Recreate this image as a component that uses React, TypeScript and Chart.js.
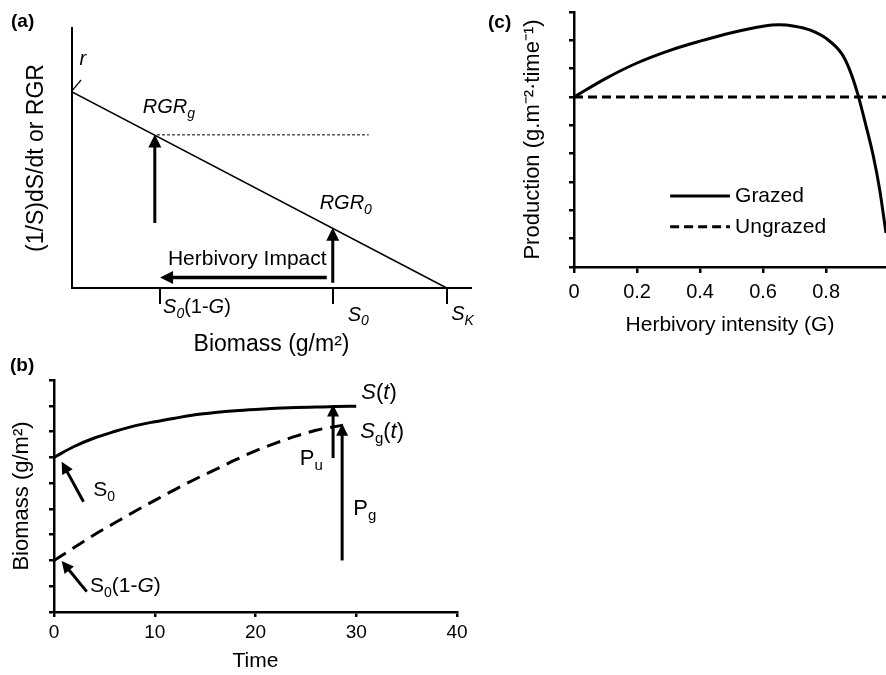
import React, { useEffect, useRef } from 'react';
import { Chart, registerables } from 'chart.js';

Chart.register(...registerables);

const FONT = '"Liberation Sans", Arial, Helvetica, sans-serif';
Chart.defaults.font.family = FONT;
Chart.defaults.color = '#000';

// ---------- Panel (a): relative growth rate vs biomass ----------
const aBiomass = [0, 100];
const aRGR = [0.754, 0];
const aRefBiomass = [22.7, 79.2];
const aRefRGR = [0.589, 0.589];
const aTickValues = [23.5, 69.6, 100];
const aTickLabels = ['*S*_{*0*}(1-*G*)', '*S*_{*0*}', '*S*_{*K*}'];
const aTickLabelX = [24.3, 73.6, 101.2];
const aTickLabelY = [-0.075, -0.104, -0.102];

// ---------- Panel (b): biomass vs time ----------
const bTime = [0, 2, 4, 6, 8, 10, 12, 14, 16, 18, 20, 22, 24, 26, 28, 30];
const bUngrazed = [6.0, 6.42, 6.75, 7.0, 7.22, 7.38, 7.52, 7.65, 7.74, 7.81, 7.86, 7.9, 7.93, 7.95, 7.97, 7.98];
const bTimeGrazed = [0, 2, 4, 6, 8, 10, 12, 14, 16, 18, 20, 22, 24, 26, 28.7];
const bGrazed = [2.0, 2.5, 3.0, 3.45, 3.9, 4.33, 4.75, 5.15, 5.52, 5.9, 6.25, 6.55, 6.82, 7.05, 7.25];
const bXTicks = [0, 10, 20, 30, 40];
const bYTicks = [0, 1, 2, 3, 4, 5, 6, 7, 8, 9];

// ---------- Panel (c): production vs herbivory intensity ----------
const cIntensity = [0, 0.1, 0.2, 0.3, 0.4, 0.5, 0.6, 0.65, 0.7, 0.75, 0.8, 0.85, 0.875, 0.9, 0.925, 0.95, 0.97, 0.99];
const cGrazed = [6.0, 6.65, 7.2, 7.63, 7.97, 8.27, 8.5, 8.55, 8.5, 8.36, 8.07, 7.52, 6.95, 6.12, 5.05, 3.9, 2.73, 1.2];
const cUngrazedX = [0, 0.99];
const cUngrazed = [6, 6];
const cXTicks = [0, 0.2, 0.4, 0.6, 0.8];
const cXTickLabels = ['0', '0.2', '0.4', '0.6', '0.8'];
const cYTicks = [0, 1, 2, 3, 4, 5, 6, 7, 8, 9];
const cSeriesNames = ['Grazed', 'Ungrazed'];

// ---------- rich text helper ----------
type Seg = { t: string; it: boolean; mode: 'n' | 'sub' | 'sup' };
function parseRich(s: string): Seg[] {
  const segs: Seg[] = [];
  let it = false;
  let mode: 'n' | 'sub' | 'sup' = 'n';
  let buf = '';
  const flush = () => {
    if (buf) { segs.push({ t: buf, it, mode }); buf = ''; }
  };
  for (let i = 0; i < s.length; i++) {
    const c = s[i];
    if (c === '*') { flush(); it = !it; }
    else if ((c === '_' || c === '^') && s[i + 1] === '{') { flush(); mode = c === '_' ? 'sub' : 'sup'; i++; }
    else if (c === '}' && mode !== 'n') { flush(); mode = 'n'; }
    else buf += c;
  }
  flush();
  return segs;
}
function drawRich(ctx: CanvasRenderingContext2D, s: string, x: number, y: number, size: number, align: 'left' | 'center') {
  const segs = parseRich(s);
  const fontOf = (g: Seg) => `${g.it ? 'italic ' : ''}${g.mode === 'n' ? size : Math.round(size * 0.68)}px ${FONT}`;
  let total = 0;
  const widths = segs.map((g) => { ctx.font = fontOf(g); const w = ctx.measureText(g.t).width; total += w; return w; });
  let cx = align === 'center' ? x - total / 2 : x;
  ctx.textBaseline = 'middle';
  ctx.textAlign = 'left';
  ctx.fillStyle = '#000';
  segs.forEach((g, i) => {
    ctx.font = fontOf(g);
    const dy = g.mode === 'sub' ? size * 0.32 : g.mode === 'sup' ? -size * 0.35 : 0;
    ctx.fillText(g.t, cx, y + dy);
    cx += widths[i];
  });
}
function drawArrow(ctx: CanvasRenderingContext2D, x1: number, y1: number, x2: number, y2: number, w: number, head: number) {
  const ang = Math.atan2(y2 - y1, x2 - x1);
  const bx = x2 - Math.cos(ang) * head;
  const by = y2 - Math.sin(ang) * head;
  ctx.strokeStyle = '#000';
  ctx.fillStyle = '#000';
  ctx.lineWidth = w;
  ctx.lineCap = 'butt';
  ctx.setLineDash([]);
  ctx.beginPath();
  ctx.moveTo(x1, y1);
  ctx.lineTo(bx + Math.cos(ang) * 1, by + Math.sin(ang) * 1);
  ctx.stroke();
  const hw = head * 0.5;
  ctx.beginPath();
  ctx.moveTo(x2, y2);
  ctx.lineTo(bx + Math.sin(ang) * hw, by - Math.cos(ang) * hw);
  ctx.lineTo(bx - Math.sin(ang) * hw, by + Math.cos(ang) * hw);
  ctx.closePath();
  ctx.fill();
}

type Arrow = { from: [number, number]; to: [number, number]; w: number; head: number };
type Label = { at: [number, number]; s: string; size: number; align?: 'left' | 'center' };
type Seg2 = { from: [number, number]; to: [number, number]; w: number };
type Overlay = { arrows?: Arrow[]; labels?: Label[]; segments?: Seg2[]; legend?: { x1: number; x2: number; tx: number; ys: number[]; size: number } };

function makeOverlay(spec: Overlay) {
  return {
    id: 'overlay',
    afterDraw(chart: any) {
      const ctx: CanvasRenderingContext2D = chart.ctx;
      const xs = chart.scales.x;
      const ys = chart.scales.y;
      const px = (v: number) => xs.getPixelForValue(v);
      const py = (v: number) => ys.getPixelForValue(v);
      ctx.save();
      (spec.segments || []).forEach((s) => {
        ctx.strokeStyle = '#000';
        ctx.lineWidth = s.w;
        ctx.setLineDash([]);
        ctx.beginPath();
        ctx.moveTo(px(s.from[0]), py(s.from[1]));
        ctx.lineTo(px(s.to[0]), py(s.to[1]));
        ctx.stroke();
      });
      (spec.arrows || []).forEach((a) => {
        drawArrow(ctx, px(a.from[0]), py(a.from[1]), px(a.to[0]), py(a.to[1]), a.w, a.head);
      });
      (spec.labels || []).forEach((l) => {
        drawRich(ctx, l.s, px(l.at[0]), py(l.at[1]), l.size, l.align || 'left');
      });
      if (spec.legend) {
        const lg = spec.legend;
        chart.data.datasets.forEach((ds: any, i: number) => {
          const y = py(lg.ys[i]);
          ctx.strokeStyle = ds.borderColor;
          ctx.lineWidth = ds.borderWidth;
          ctx.setLineDash(ds.borderDash || []);
          ctx.beginPath();
          ctx.moveTo(px(lg.x1), y);
          ctx.lineTo(px(lg.x2), y);
          ctx.stroke();
          ctx.setLineDash([]);
          drawRich(ctx, ds.label, px(lg.tx), y, lg.size, 'left');
        });
      }
      ctx.restore();
    },
  };
}

const pts = (xs: number[], ys: number[]) => xs.map((x, i) => ({ x, y: ys[i] }));
const setTicks = (vals: number[]) => (scale: any) => { scale.ticks = vals.map((v) => ({ value: v })); };

function buildA(): any {
  return {
    type: 'line',
    data: {
      datasets: [
        { label: 'RGR', data: pts(aBiomass, aRGR), borderColor: '#000', borderWidth: 1.6, pointRadius: 0, tension: 0 },
        { label: 'reference', data: pts(aRefBiomass, aRefRGR), borderColor: '#000', borderWidth: 1, borderDash: [3, 2], pointRadius: 0 },
      ],
    },
    options: {
      responsive: false, animation: false, events: [],
      layout: { padding: { top: 28, right: 9, left: 0, bottom: 0 } },
      plugins: { legend: { display: false }, tooltip: { enabled: false } },
      scales: {
        x: {
          type: 'linear', min: 0, max: 106.5,
          afterBuildTicks: setTicks(aTickValues),
          afterFit: (s: any) => { s.height = 72; },
          ticks: { display: false },
          grid: { display: true, drawOnChartArea: false, drawTicks: true, tickLength: 16, color: '#000', lineWidth: 2 },
          border: { display: true, color: '#000', width: 2 },
          title: { display: true, text: 'Biomass (g/m²)', font: { size: 23 }, color: '#000', padding: { top: 0, bottom: 2 } },
        },
        y: {
          type: 'linear', min: 0, max: 1,
          afterBuildTicks: setTicks([]),
          afterFit: (s: any) => { s.width = 72; },
          ticks: { display: false },
          grid: { display: false },
          border: { display: true, color: '#000', width: 2 },
          title: { display: true, text: '(1/S)dS/dt or RGR', font: { size: 23 }, color: '#000', padding: { top: 23, bottom: 0 } },
        },
      },
    },
    plugins: [makeOverlay({
      segments: [{ from: [0, 0.758], to: [2.4, 0.8], w: 1.2 }],
      arrows: [
        { from: [22.1, 0.25], to: [22.1, 0.59], w: 3, head: 13 },
        { from: [69.6, 0.02], to: [69.6, 0.232], w: 3, head: 13 },
        { from: [68, 0.04], to: [23.5, 0.04], w: 3.5, head: 13 },
      ],
      labels: [
        { at: [2.9, 0.881], s: '*r*', size: 20, align: 'center' },
        { at: [18.9, 0.694], s: '*RGR*_{*g*}', size: 20 },
        { at: [66.1, 0.325], s: '*RGR*_{*0*}', size: 20 },
        { at: [25.6, 0.11], s: 'Herbivory Impact', size: 21 },
        ...aTickLabels.map((s, i) => ({ at: [aTickLabelX[i], aTickLabelY[i]] as [number, number], s, size: 20 })),
      ],
    })],
  };
}

function buildB(): any {
  return {
    type: 'line',
    data: {
      datasets: [
        { label: 'S(t)', data: pts(bTime, bUngrazed), borderColor: '#000', borderWidth: 3, pointRadius: 0, cubicInterpolationMode: 'monotone' },
        { label: 'Sg(t)', data: pts(bTimeGrazed, bGrazed), borderColor: '#000', borderWidth: 3, borderDash: [14, 8], pointRadius: 0, cubicInterpolationMode: 'monotone' },
      ],
    },
    options: {
      responsive: false, animation: false, events: [],
      layout: { padding: { top: 20, right: 23, left: 0, bottom: 0 } },
      plugins: { legend: { display: false }, tooltip: { enabled: false } },
      scales: {
        x: {
          type: 'linear', min: 0, max: 40,
          afterBuildTicks: setTicks(bXTicks),
          afterFit: (s: any) => { s.height = 63; },
          ticks: { display: true, font: { size: 19 }, color: '#000', padding: 4, maxRotation: 0 },
          grid: { display: true, drawOnChartArea: false, drawTicks: true, tickLength: 5, color: '#000', lineWidth: 2.5 },
          border: { display: true, color: '#000', width: 2.5 },
          title: { display: true, text: 'Time', font: { size: 21 }, color: '#000', padding: { top: 0, bottom: 1 } },
        },
        y: {
          type: 'linear', min: 0, max: 9,
          afterBuildTicks: setTicks(bYTicks),
          afterFit: (s: any) => { s.width = 54; },
          ticks: { display: false },
          grid: { display: true, drawOnChartArea: false, drawTicks: true, tickLength: 5, color: '#000', lineWidth: 2.5 },
          border: { display: true, color: '#000', width: 2.5 },
          title: { display: true, text: 'Biomass (g/m²)', font: { size: 22 }, color: '#000', padding: { top: 9, bottom: 0 } },
        },
      },
    },
    plugins: [makeOverlay({
      arrows: [
        { from: [27.7, 5.97], to: [27.7, 8.05], w: 3, head: 12 },
        { from: [28.6, 2.0], to: [28.6, 7.3], w: 3, head: 12 },
        { from: [2.93, 4.28], to: [0.76, 5.83], w: 3, head: 12 },
        { from: [3.25, 0.79], to: [0.76, 1.98], w: 3, head: 12 },
      ],
      labels: [
        { at: [30.5, 8.51], s: '*S*(*t*)', size: 22 },
        { at: [30.4, 6.99], s: '*S*_{g}(*t*)', size: 22 },
        { at: [24.4, 5.93], s: 'P_{u}', size: 22 },
        { at: [29.7, 3.99], s: 'P_{g}', size: 22 },
        { at: [3.9, 4.71], s: 'S_{0}', size: 21 },
        { at: [3.57, 1.0], s: 'S_{0}(1-*G*)', size: 21 },
      ],
    })],
  };
}

function buildC(): any {
  return {
    type: 'line',
    data: {
      datasets: [
        { label: cSeriesNames[0], data: pts(cIntensity, cGrazed), borderColor: '#000', borderWidth: 3, pointRadius: 0, cubicInterpolationMode: 'monotone' },
        { label: cSeriesNames[1], data: pts(cUngrazedX, cUngrazed), borderColor: '#000', borderWidth: 3, borderDash: [9, 5], pointRadius: 0 },
      ],
    },
    options: {
      responsive: false, animation: false, events: [],
      layout: { padding: { top: 12, right: 0, left: 0, bottom: 0 } },
      plugins: { legend: { display: false }, tooltip: { enabled: false } },
      scales: {
        x: {
          type: 'linear', min: 0, max: 0.99,
          afterBuildTicks: setTicks(cXTicks),
          afterFit: (s: any) => { s.height = 71; },
          ticks: { display: true, font: { size: 20 }, color: '#000', padding: 7, maxRotation: 0, callback: (_v: any, i: number) => cXTickLabels[i] },
          grid: { display: true, drawOnChartArea: false, drawTicks: true, tickLength: 6, color: '#000', lineWidth: 2.5 },
          border: { display: true, color: '#000', width: 2.5 },
          title: { display: true, text: 'Herbivory intensity (G)', font: { size: 21 }, color: '#000', padding: { top: 0, bottom: 0 } },
        },
        y: {
          type: 'linear', min: 0, max: 9,
          afterBuildTicks: setTicks(cYTicks),
          afterFit: (s: any) => { s.width = 94; },
          ticks: { display: false },
          grid: { display: true, drawOnChartArea: false, drawTicks: true, tickLength: 5, color: '#000', lineWidth: 2.5 },
          border: { display: true, color: '#000', width: 2.5 },
          title: { display: true, text: 'Production (g.m⁻²·time⁻¹)', font: { size: 22 }, color: '#000', padding: { top: 40, bottom: 0 } },
        },
      },
    },
    plugins: [makeOverlay({
      legend: { x1: 0.305, x2: 0.495, tx: 0.511, ys: [2.51, 1.42], size: 21 },
    })],
  };
}

function ChartCanvas(props: { left: number; top: number; width: number; height: number; build: () => any }) {
  const ref = useRef<HTMLCanvasElement>(null);
  useEffect(() => {
    const chart = new Chart(ref.current as HTMLCanvasElement, props.build());
    return () => chart.destroy();
  }, []);
  return (
    <canvas
      ref={ref}
      width={props.width}
      height={props.height}
      style={{ position: 'absolute', left: props.left, top: props.top, width: props.width, height: props.height }}
    />
  );
}

const panelLabel = (txt: string, left: number, top: number) => (
  <div style={{ position: 'absolute', left, top, font: `bold 19px ${FONT}`, lineHeight: '22px', color: '#000' }}>{txt}</div>
);

export default function App() {
  return (
    <div style={{ position: 'absolute', left: 0, top: 0, width: 886, height: 675, background: '#fff', overflow: 'hidden' }}>
      <ChartCanvas left={0} top={0} width={480} height={360} build={buildA} />
      <ChartCanvas left={0} top={360} width={480} height={315} build={buildB} />
      <ChartCanvas left={480} top={0} width={406} height={338} build={buildC} />
      {panelLabel('(a)', 11, 10)}
      {panelLabel('(b)', 10, 354)}
      {panelLabel('(c)', 488, 11)}
    </div>
  );
}
